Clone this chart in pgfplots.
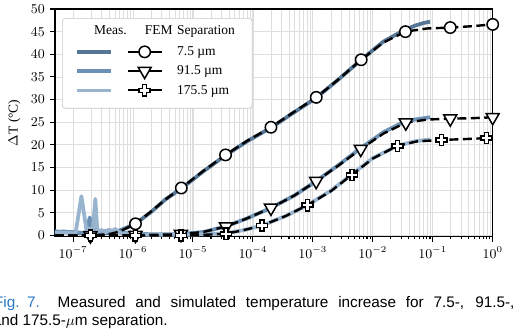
\documentclass[border=0pt]{standalone}
\usepackage{fontspec}
\setmainfont{Liberation Serif}
\newfontfamily\capfont{Liberation Sans}
\usepackage{pgfplots}
\pgfplotsset{compat=1.18}

\definecolor{m1}{RGB}{86,118,150}
\definecolor{m2}{RGB}{108,145,180}
\definecolor{m3}{RGB}{152,180,206}
\definecolor{gridc}{RGB}{222,222,222}
\definecolor{capblue}{RGB}{40,120,200}

\pgfdeclareplotmark{fatplus}{%
  \pgfpathmoveto{\pgfpoint{-0.36\pgfplotmarksize}{\pgfplotmarksize}}%
  \pgfpathlineto{\pgfpoint{0.36\pgfplotmarksize}{\pgfplotmarksize}}%
  \pgfpathlineto{\pgfpoint{0.36\pgfplotmarksize}{0.36\pgfplotmarksize}}%
  \pgfpathlineto{\pgfpoint{\pgfplotmarksize}{0.36\pgfplotmarksize}}%
  \pgfpathlineto{\pgfpoint{\pgfplotmarksize}{-0.36\pgfplotmarksize}}%
  \pgfpathlineto{\pgfpoint{0.36\pgfplotmarksize}{-0.36\pgfplotmarksize}}%
  \pgfpathlineto{\pgfpoint{0.36\pgfplotmarksize}{-\pgfplotmarksize}}%
  \pgfpathlineto{\pgfpoint{-0.36\pgfplotmarksize}{-\pgfplotmarksize}}%
  \pgfpathlineto{\pgfpoint{-0.36\pgfplotmarksize}{-0.36\pgfplotmarksize}}%
  \pgfpathlineto{\pgfpoint{-\pgfplotmarksize}{-0.36\pgfplotmarksize}}%
  \pgfpathlineto{\pgfpoint{-\pgfplotmarksize}{0.36\pgfplotmarksize}}%
  \pgfpathlineto{\pgfpoint{-0.36\pgfplotmarksize}{0.36\pgfplotmarksize}}%
  \pgfpathclose
  \pgfusepathqfillstroke}

\tikzset{
  legmeas/.style={draw=#1, line width=2.2pt, rounded corners=0pt},
  legfem/.style={draw=black, line width=1.6pt, rounded corners=0pt},
  legmark/.style={fill=white, draw=black, line width=1pt, rounded corners=0pt},
  legtxt/.style={font=\small, text height=0.7em, text depth=0.2em, inner sep=0pt, draw=none, fill=none},
  captxt/.style={anchor=base west, inner sep=0pt, font=\capfont\fontsize{10.2}{12}\selectfont},
}

\begin{document}
\begin{tikzpicture}
\begin{axis}[
  at={(36.67pt,-157.8pt)}, anchor=south west,
  scale only axis, width=291.8pt, height=151.8pt,
  xmode=log, xmin=5e-8, xmax=1, ymin=-0.25, ymax=50,
  xtick={1e-7,1e-6,1e-5,1e-4,1e-3,1e-2,1e-1,1},
  ytick={0,5,10,15,20,25,30,35,40,45,50},
  tick align=outside, xtick pos=bottom, ytick pos=left,
  major tick length=3.3pt, minor tick length=1.8pt,
  grid=both,
  major grid style={gridc, line width=0.6pt},
  minor grid style={gridc, line width=0.5pt},
  axis line style={black, line width=0.8pt},
  every tick/.style={black, line width=0.7pt},
  tick label style={font=\small},
  ylabel={$\Delta$T (°C)},
  ylabel style={font=\small},
  legend cell align=left,
  legend style={at={(0.016,0.96)}, anchor=north west, draw=gray!45,
    rounded corners=2pt, fill=white, font=\small,
    row sep=1.8pt, inner xsep=8.5pt, inner ysep=2.5pt,
    nodes={text height=0.7em, text depth=0.2em, inner xsep=3pt, inner ysep=1pt}},
]
% Measured
\addplot[m1, line width=2.5pt, line join=round, forget plot] coordinates {
(5e-8,0.9)(6e-8,0.8)(7e-8,0.9)(8.5e-8,0.8)(1e-7,0.7)(1.2e-7,0.6)(1.5e-7,0.5)(2e-7,0.6)(2.5e-7,0.4)(3e-7,0.5)(4e-7,0.6)(5e-7,0.9)(6e-7,1.1)(8e-7,1.8)(1.1e-6,2.6)(2e-6,5.2)(3.5e-6,8.0)(6.4e-6,10.4)(1.5e-5,14.2)(3.5e-5,17.7)(8e-5,20.8)(2e-4,23.8)(5e-4,27.3)(1.14e-3,30.4)(2.7e-3,34.5)(6.4e-3,38.8)(1.5e-2,42.8)(3e-2,45.0)(5e-2,46.3)(7e-2,46.9)(9e-2,47.2)};
\addplot[m2, line width=2.5pt, line join=round, forget plot] coordinates {
(5e-8,0.9)(7e-8,0.8)(1e-7,0.8)(1.5e-7,0.6)(1.7e-7,0.9)(1.9e-7,4.0)(2.15e-7,0.8)(2.4e-7,1.5)(3e-7,0.7)(4e-7,1.2)(5e-7,0.9)(7e-7,0.6)(1e-6,0.4)(2e-6,0.3)(6e-6,0.3)(1.5e-5,0.8)(3.5e-5,2.0)(8e-5,3.8)(2e-4,6.1)(5e-4,8.9)(1.13e-3,12.0)(2.7e-3,15.6)(6.3e-3,19.3)(1.5e-2,22.8)(3e-2,24.8)(5e-2,25.6)(9e-2,26.1)};
\addplot[m3, line width=2.5pt, line join=round, forget plot] coordinates {
(5e-8,0.6)(8e-8,0.6)(1.1e-7,0.5)(1.38e-7,8.7)(1.7e-7,0.6)(1.85e-7,1.6)(2.12e-7,0.6)(2.35e-7,8.1)(2.55e-7,0.8)(3e-7,1.2)(3.5e-7,0.7)(4e-7,1.3)(4.5e-7,0.8)(5e-7,1.5)(6e-7,0.6)(8e-7,0.3)(1.5e-6,0.2)(1e-5,0.2)(3.5e-5,0.5)(7e-5,1.2)(1.41e-4,2.2)(3.5e-4,4.3)(8.1e-4,6.7)(2e-3,9.9)(4.47e-3,13.5)(1e-2,17.1)(2.57e-2,19.8)(5e-2,20.8)(9e-2,21.2)};
% FEM lines
\addplot[black, line width=1.6pt, dash pattern=on 6pt off 3pt, forget plot] coordinates {
(5e-8,0)(2e-7,0.02)(4e-7,0.3)(6e-7,0.9)(1.1e-6,2.6)(2e-6,5.3)(3.5e-6,8.0)(6.4e-6,10.5)(1.5e-5,14.3)(3.5e-5,17.8)(8e-5,20.9)(2e-4,23.9)(5e-4,27.4)(1.14e-3,30.5)(2.7e-3,34.5)(6.4e-3,38.8)(1.5e-2,42.6)(3.5e-2,45.0)(8e-2,45.7)(0.196,45.9)(0.45,46.2)(1,46.6)};
\addplot[black, line width=1.6pt, dash pattern=on 6pt off 3pt, forget plot] coordinates {
(5e-8,0)(1e-6,0.05)(6.3e-6,0.3)(1.5e-5,0.8)(3.55e-5,2.0)(8e-5,3.8)(2e-4,6.1)(5e-4,8.9)(1.135e-3,12.0)(2.7e-3,15.5)(6.3e-3,19.1)(1.5e-2,22.5)(3.55e-2,24.9)(8e-2,25.6)(0.196,25.8)(0.45,25.9)(1,26.1)};
\addplot[black, line width=1.6pt, dash pattern=on 6pt off 3pt, forget plot] coordinates {
(5e-8,0)(1e-5,0.05)(3.55e-5,0.4)(7e-5,1.2)(1.41e-4,2.2)(3.5e-4,4.3)(8.1e-4,6.7)(2e-3,9.8)(4.47e-3,13.4)(1e-2,17.0)(2.57e-2,19.8)(5.5e-2,20.8)(0.141,21.1)(0.35,21.3)(0.794,21.5)(1,21.5)};
% FEM marks
\addplot[only marks, mark=*, mark size=3.8pt, mark options={fill=white, draw=black, line width=1pt}, forget plot] coordinates {
(1.1e-6,2.6)(6.4e-6,10.5)(3.5e-5,17.8)(2e-4,23.9)(1.14e-3,30.5)(6.4e-3,38.8)(3.5e-2,45.0)(0.196,45.9)(1,46.6)};
\addplot[only marks, mark=triangle*, mark size=5pt, mark options={rotate=180, fill=white, draw=black, line width=1pt}, forget plot] coordinates {
(1.95e-7,0)(1.1e-6,0.1)(6.3e-6,0.3)(3.55e-5,2.0)(2e-4,6.1)(1.135e-3,12.0)(6.3e-3,19.1)(3.55e-2,24.9)(0.196,25.8)(1,26.1)};
\addplot[only marks, mark=fatplus, mark size=3.7pt, mark options={fill=white, draw=black, line width=1pt}, forget plot] coordinates {
(1.95e-7,0)(1.1e-6,0)(6.3e-6,0)(3.55e-5,0.4)(1.41e-4,2.2)(8.1e-4,6.7)(4.47e-3,13.4)(2.57e-2,19.8)(0.141,21.1)(0.794,21.5)};
% legend
\addlegendimage{legend image code/.code={
  \path[draw=none, fill=none] (0pt,-7pt) rectangle (60pt,3pt);
  \node[legtxt] at (11.35pt,0pt) {Meas.};
  \node[legtxt] at (45.3pt,0pt) {FEM};}}
\addlegendentry{Separation}
\addlegendimage{legend image code/.code={
  \path[draw=none, fill=none] (0pt,-3pt) rectangle (60pt,3pt);
  \path[legmeas=m1] (0pt,0pt) -- (22.7pt,0pt);
  \path[legfem] (34pt,0pt) -- (56.7pt,0pt);
  \path plot[only marks, mark=*, mark size=3.8pt, mark options={legmark}] coordinates {(45.3pt,0pt)};}}
\addlegendentry{7.5 µm}
\addlegendimage{legend image code/.code={
  \path[draw=none, fill=none] (0pt,-3pt) rectangle (60pt,3pt);
  \path[legmeas=m2] (0pt,0pt) -- (22.7pt,0pt);
  \path[legfem] (34pt,0pt) -- (56.7pt,0pt);
  \path plot[only marks, mark=triangle*, mark size=5pt, mark options={legmark, rotate=180}] coordinates {(45.3pt,0pt)};}}
\addlegendentry{91.5 µm}
\addlegendimage{legend image code/.code={
  \path[draw=none, fill=none] (0pt,-9.5pt) rectangle (60pt,3pt);
  \path[legmeas=m3] (0pt,0pt) -- (22.7pt,0pt);
  \path[legfem] (34pt,0pt) -- (56.7pt,0pt);
  \path plot[only marks, mark=fatplus, mark size=3.7pt, mark options={legmark}] coordinates {(45.3pt,0pt)};}}
\addlegendentry{175.5 µm\hspace{4.5pt}}
\end{axis}
\node[captxt, anchor=base east, text=capblue] at (13.3pt,-205.1pt) {Fig.};
\node[captxt, text=capblue] at (17.8pt,-205.1pt) {7.};
\node[captxt] at (38.2pt,-205.1pt) {\makebox[304.6pt][s]{Measured and simulated temperature increase for 7.5-, 91.5-,}};
\node[captxt] at (-5pt,-216.7pt) {and 175.5-$\mu$m separation.};
\pgfresetboundingbox
\useasboundingbox (0pt,0pt) rectangle (342pt,-219.33pt);
\end{tikzpicture}
\end{document}
